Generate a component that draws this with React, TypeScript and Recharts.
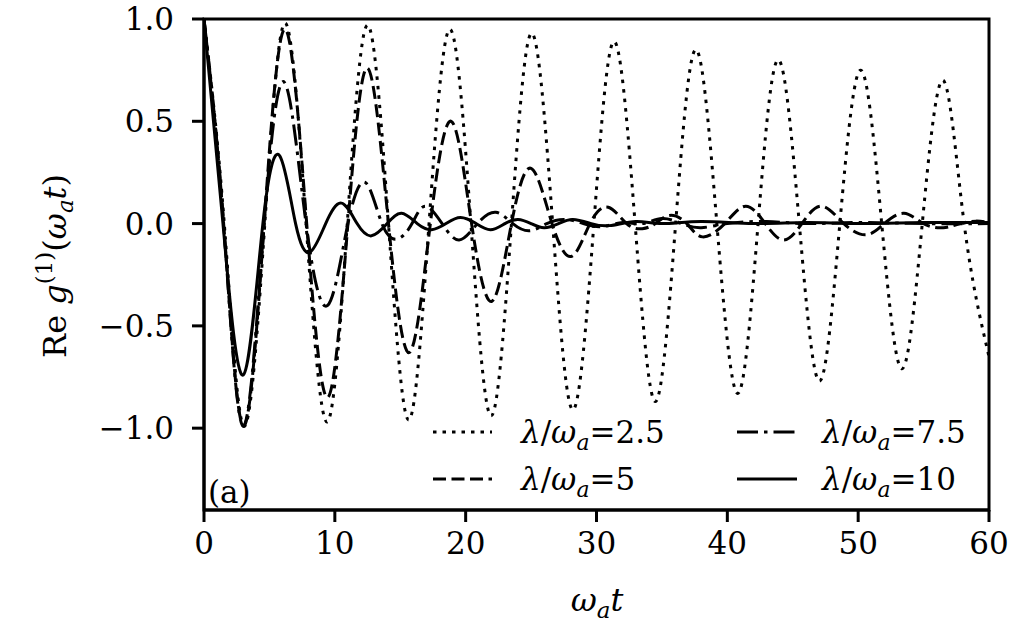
import { LineChart, Line, XAxis, YAxis, ReferenceArea } from "recharts";

const FONT = "DejaVu Serif, Liberation Serif, serif";

const X_TICKS = [0, 10, 20, 30, 40, 50, 60];
const Y_TICKS = [-1, -0.5, 0, 0.5, 1];

// λ/ωa = 2.5 (dotted)
const T_25 = [0, 1.55, 3.05, 4.65, 6.2, 7.8, 9.4, 10.95, 12.5, 14.1, 15.65, 17.2, 18.8, 20.4, 21.95, 23.5, 25.05, 26.65, 28.2, 29.8, 31.35, 32.95, 34.5, 36.05, 37.6, 39.2, 40.8, 42.35, 43.9, 45.5, 47.05, 48.6, 50.2, 51.8, 53.35, 54.9, 56.5, 58.1, 60];
const V_25 = [1, 0, -0.99, 0, 0.98, 0, -0.97, 0, 0.97, 0, -0.96, 0, 0.95, 0, -0.94, 0, 0.93, 0, -0.91, 0, 0.89, 0, -0.87, 0, 0.85, 0, -0.83, 0, 0.8, 0, -0.77, 0, 0.75, 0, -0.71, 0, 0.7, 0, -0.65];

// λ/ωa = 5 (dashed)
const T_5 = [0, 1.5, 3, 4.6, 6.2, 7.85, 9.45, 11, 12.5, 14.1, 15.7, 17.3, 18.9, 20.45, 22, 23.5, 25, 26.6, 28.1, 29.5, 30.9, 32.3, 33.5, 34.5, 35.6, 36.9, 38.1, 39.8, 41.4, 42.9, 44.3, 45.7, 47.2, 48.9, 50.6, 52, 53.5, 55, 56.5, 57.8, 59, 60];
const V_5 = [1, 0, -0.99, 0, 0.95, 0, -0.85, 0, 0.76, 0, -0.63, 0, 0.5, 0, -0.38, 0, 0.27, 0, -0.16, 0, 0.08, 0, -0.025, 0, 0.04, 0, -0.065, 0, 0.085, 0, -0.08, 0, 0.085, 0, -0.055, 0, 0.05, 0, -0.02, 0, 0.012, 0.005];

// λ/ωa = 7.5 (dash-dot)
const T_75 = [0, 1.5, 3, 4.6, 6.15, 7.8, 9.45, 11, 12.35, 13.6, 14.8, 15.9, 16.9, 18.2, 19.5, 20.9, 22.3, 23.6, 24.9, 26.2, 27.6, 29, 30.4, 32, 33.5, 35, 36.5, 38, 40, 43, 46, 50, 55, 60];
const V_75 = [1, 0, -0.99, 0, 0.69, 0, -0.4, 0, 0.2, 0, -0.075, 0, 0.085, 0, -0.08, 0, 0.055, 0, -0.035, 0, 0.02, 0, -0.015, 0.005, 0, 0.025, 0, -0.02, 0, 0.01, 0, 0.005, 0, 0];

// λ/ωa = 10 (solid)
const T_10 = [0, 1.45, 3, 4.5, 5.8, 7, 8.1, 9.3, 10.5, 11.7, 12.8, 14, 15.1, 16.3, 17.4, 18.5, 19.6, 20.8, 21.9, 23, 24, 25, 26, 27.1, 28.2, 29.6, 31, 33, 35, 38, 42, 46, 50, 55, 60];
const V_10 = [1, 0, -0.74, 0, 0.33, 0, -0.14, 0, 0.1, 0, -0.06, 0, 0.05, 0, -0.03, 0, 0.03, 0, -0.03, 0, 0.02, 0, -0.02, 0, 0.02, 0, -0.01, 0.01, 0, 0.01, 0, 0.005, 0, 0.005, 0.005];

const zip = (ts: number[], vs: number[]) => ts.map((t, i) => ({ t, v: vs[i] }));

const SERIES = [
  { label: "2.5", data: zip(T_25, V_25), dash: "3.5 6" },
  { label: "5", data: zip(T_5, V_5), dash: "13 5.5" },
  { label: "7.5", data: zip(T_75, V_75), dash: "21 6 3.5 6" },
  { label: "10", data: zip(T_10, V_10), dash: undefined },
];

const fmtY = (v: number) => (v < 0 ? "\u2212" : "") + Math.abs(v).toFixed(1);

const tickStyle = { fill: "#000", fontSize: 31, fontFamily: FONT };
const axisStroke = { stroke: "#000", strokeWidth: 3 };

function LegendLabel({ x, y, value }: { x: number; y: number; value: string }) {
  return (
    <text x={x} y={y} fontSize={31} fontFamily={FONT} fill="#000">
      <tspan fontStyle="italic">λ</tspan>
      <tspan>/</tspan>
      <tspan fontStyle="italic">ω</tspan>
      <tspan fontStyle="italic" fontSize={22} dy={7}>a</tspan>
      <tspan dy={-7}>={value}</tspan>
    </text>
  );
}

// legend slots: [line x0, line x1, text x, row y]
const LEGEND_POS = [
  [433, 492, 521, 432],
  [433, 492, 521, 479],
  [737, 797, 822, 432],
  [737, 797, 822, 479],
];

export default function App() {
  return (
    <div style={{ position: "absolute", left: 0, top: 0, width: 1020, height: 637, background: "#fff" }}>
      <LineChart
        width={1020}
        height={637}
        margin={{ top: 19, right: 31, bottom: 67, left: 124 }}
      >
        <XAxis
          type="number"
          dataKey="t"
          domain={[0, 60]}
          ticks={X_TICKS}
          interval={0}
          height={60}
          tick={tickStyle}
          tickSize={12}
          tickMargin={10}
          axisLine={axisStroke}
          tickLine={axisStroke}
          allowDataOverflow
        />
        <YAxis
          type="number"
          domain={[-1.4, 1]}
          ticks={Y_TICKS}
          interval={0}
          width={80}
          tick={tickStyle}
          tickFormatter={fmtY}
          tickSize={12}
          tickMargin={18}
          axisLine={axisStroke}
          tickLine={axisStroke}
          allowDataOverflow
        />
        {SERIES.map((s) => (
          <Line
            key={s.label}
            data={s.data}
            dataKey="v"
            type="natural"
            stroke="#000"
            strokeWidth={3}
            strokeDasharray={s.dash}
            strokeLinecap="butt"
            dot={false}
            activeDot={false}
            isAnimationActive={false}
          />
        ))}
        <ReferenceArea
          x1={0}
          x2={60}
          y1={-1.4}
          y2={1}
          fill="none"
          stroke="#000"
          strokeWidth={3}
          ifOverflow="visible"
        />
      </LineChart>
      <svg
        width={1020}
        height={637}
        style={{ position: "absolute", left: 0, top: 0, pointerEvents: "none" }}
      >
        {/* y axis label */}
        <text
          transform="translate(66,266) rotate(-90)"
          textAnchor="middle"
          fontSize={32}
          fontFamily={FONT}
          fill="#000"
        >
          <tspan>Re </tspan>
          <tspan fontStyle="italic">g</tspan>
          <tspan fontSize={23} dy={-14}>(1)</tspan>
          <tspan dy={14}>(</tspan>
          <tspan fontStyle="italic">ω</tspan>
          <tspan fontStyle="italic" fontSize={23} dy={7}>a</tspan>
          <tspan fontStyle="italic" dy={-7}>t</tspan>
          <tspan>)</tspan>
        </text>
        {/* x axis label */}
        <text x={597} y={611} textAnchor="middle" fontSize={32} fontFamily={FONT} fill="#000">
          <tspan fontStyle="italic">ω</tspan>
          <tspan fontStyle="italic" fontSize={23} dy={7}>a</tspan>
          <tspan fontStyle="italic" dy={-7}>t</tspan>
        </text>
        <text x={208} y={503} fontSize={31} fontFamily={FONT} fill="#000">(a)</text>
        {/* legend */}
        {SERIES.map((s, i) => {
          const [x0, x1, tx, y] = LEGEND_POS[i];
          return (
            <g key={s.label}>
              <line x1={x0} x2={x1} y1={y} y2={y} stroke="#000" strokeWidth={3} strokeDasharray={s.dash} />
              <LegendLabel x={tx} y={y + 11} value={s.label} />
            </g>
          );
        })}
      </svg>
    </div>
  );
}
